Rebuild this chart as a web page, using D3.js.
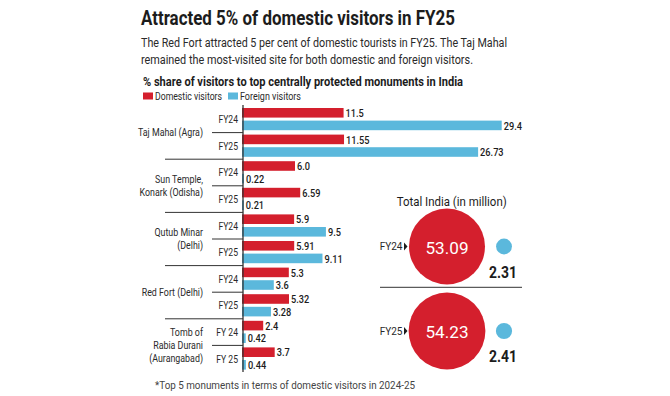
<!DOCTYPE html>
<html><head><meta charset="utf-8">
<script src="https://cdn.jsdelivr.net/npm/d3@7"></script>
<style>
html,body{margin:0;padding:0;background:#fff;}
svg{display:block;}
text{font-family:Roboto,"Noto Sans","DejaVu Sans",sans-serif;}
</style></head><body>
<svg id="chart" width="670" height="396"></svg>
<script>
// ---------- data ----------
const monuments = [["Taj Mahal (Agra)"],["Sun Temple,","Konark (Odisha)"],["Qutub Minar","(Delhi)"],["Red Fort (Delhi)"],["Tomb of","Rabia Durani","(Aurangabad)"]];
const yearLabels = [["FY24","FY25"],["FY24","FY25"],["FY24","FY25"],["FY24","FY25"],["FY 24","FY 25"]];
const domestic = [11.5, 11.55, 6.0, 6.59, 5.9, 5.91, 5.3, 5.32, 2.4, 3.7];
const foreign  = [29.4, 26.73, 0.22, 0.21, 9.5, 9.11, 3.6, 3.28, 0.42, 0.44];
const seriesNames = ["Domestic visitors","Foreign visitors"];
const totalYears = ["FY24","FY25"];
const totalDomestic = [53.09, 54.23];
const totalForeign = [2.31, 2.41];

const titleText = "Attracted 5% of domestic visitors in FY25";
const subtitleLines = ["The Red Fort attracted 5 per cent of domestic tourists in FY25. The Taj Mahal","remained the most-visited site for both domestic and foreign visitors."];
const chartTitle = "% share of visitors to top centrally protected monuments in India";
const totalTitle = "Total India (in million)";
const footnote = "*Top 5 monuments in terms of domestic visitors in 2024-25";

// ---------- style ----------
const RED = "#d41f2d", BLUE = "#5bb8dc", INK = "#1c1c1c", GREY = "#2a2a2a", LINE = "#333";
const svg = d3.select("#chart");

// fit a text to an exact width (condensed look)
function fitW(sel, size, target) {
  sel.style("font-size", size + "px");
  sel.attr("textLength", target).attr("lengthAdjust", "spacingAndGlyphs");
  return sel;
}
// condense a text by a factor
function squeeze(sel, size, f) {
  sel.style("font-size", size + "px");
  sel.each(function () {
    const w = this.getComputedTextLength();
    d3.select(this).attr("textLength", (w * f).toFixed(2)).attr("lengthAdjust", "spacingAndGlyphs");
  });
  return sel;
}

// ---------- header ----------
fitW(svg.append("text").attr("x", 141).attr("y", 25).attr("fill", INK)
  .attr("font-weight", "bold").text(titleText), 19.5, 314);
subtitleLines.forEach((t, i) => {
  fitW(svg.append("text").attr("x", 141).attr("y", 47 + i * 17).attr("fill", GREY).text(t),
      12.5, i === 0 ? 366 : 332);
});
fitW(svg.append("text").attr("x", 143).attr("y", 86).attr("fill", INK)
  .attr("font-weight", "bold").text(chartTitle), 12.5, 320);

// legend
const legX = [143, 228], legW = [67, 61];
seriesNames.forEach((n, i) => {
  svg.append("rect").attr("x", legX[i]).attr("y", 92.5).attr("width", 10).attr("height", 7)
    .attr("fill", i === 0 ? RED : BLUE);
  fitW(svg.append("text").attr("x", legX[i] + 12).attr("y", 100).attr("fill", GREY).text(n), 11, legW[i]);
});

// ---------- bar chart ----------
const rows = d3.range(domestic.length);
const x = d3.scaleLinear().domain([0, 30]).range([242, 507]);
const y = d3.scaleBand().domain(rows).range([106, 372]).padding(0);
const yIn = d3.scaleBand().domain(["d", "f"]).range([2, 24.2]).paddingInner(0.24);
const fmt = v => Number.isInteger(v) ? v.toFixed(1) : String(v);

const series = [{key: "d", values: domestic, color: RED}, {key: "f", values: foreign, color: BLUE}];
const gBars = svg.append("g");
series.forEach(s => {
  gBars.selectAll(null).data(rows).join("rect")
    .attr("x", x(0))
    .attr("y", i => y(i) + yIn(s.key))
    .attr("width", i => x(s.values[i]) - x(0))
    .attr("height", yIn.bandwidth())
    .attr("fill", s.color);
  const t = gBars.selectAll(null).data(rows).join("text")
    .attr("x", i => x(s.values[i]) + 2)
    .attr("y", i => y(i) + yIn(s.key) + yIn.bandwidth() / 2)
    .attr("dy", "0.36em")
    .attr("fill", INK)
    .attr("font-weight", 500)
    .text(i => fmt(s.values[i]));
  squeeze(t, 11.5, 0.8);
});

// axis line
svg.append("line").attr("x1", 243).attr("x2", 243).attr("y1", y.range()[0] - 1).attr("y2", y.range()[1])
  .attr("stroke", LINE).attr("stroke-width", 1.3);

// separators and labels
monuments.forEach((lines, g) => {
  const top = y(2 * g), mid = y(2 * g + 1), bottom = mid + y.step();
  if (g > 0) svg.append("line").attr("x1", 165).attr("x2", 243).attr("y1", top).attr("y2", top)
    .attr("stroke", LINE).attr("stroke-width", 1);
  svg.append("line").attr("x1", 212).attr("x2", 243).attr("y1", mid).attr("y2", mid)
    .attr("stroke", LINE).attr("stroke-width", 1);
  const cy = (top + bottom) / 2, lh = 13.2;
  lines.forEach((t, j) => {
    squeeze(svg.append("text").attr("x", 203).attr("y", cy - 0.5 + (j - (lines.length - 1) / 2) * lh)
      .attr("dy", "0.36em").attr("text-anchor", "end").attr("fill", GREY).text(t), 11.5, 0.77);
  });
  yearLabels[g].forEach((t, k) => {
    squeeze(svg.append("text").attr("x", 238).attr("y", y(2 * g + k) + y.step() / 2)
      .attr("dy", "0.36em").attr("text-anchor", "end").attr("fill", GREY).text(t), 11, 0.78);
  });
});

// ---------- totals panel ----------
fitW(svg.append("text").attr("x", 396.7).attr("y", 206).attr("fill", INK)
  .text(totalTitle), 13.5, 110);
const r = d3.scaleSqrt().domain([0, 53.09]).range([0, 38]);
const cyT = d3.scalePoint().domain(totalYears).range([246.5, 331]);
svg.append("line").attr("x1", 380).attr("x2", 522).attr("y1", 287.3).attr("y2", 287.3)
  .attr("stroke", LINE).attr("stroke-width", 1);
totalYears.forEach((yr, i) => {
  const cy = cyT(yr);
  svg.append("circle").attr("cx", 447).attr("cy", cy).attr("r", r(totalDomestic[i])).attr("fill", RED);
  fitW(svg.append("text").attr("x", 425.5).attr("y", cy + 1).attr("dy", "0.36em")
    .attr("fill", "#fff").text(totalDomestic[i].toFixed(2)), 17, 43);
  svg.append("circle").attr("cx", 504).attr("cy", cy).attr("r", r(totalForeign[i])).attr("fill", BLUE);
  fitW(svg.append("text").attr("x", 489).attr("y", cy + 31)
    .attr("fill", INK).attr("font-weight", "bold").text(totalForeign[i].toFixed(2)), 16.5, 28);
  svg.append("text").attr("x", 402.5).attr("y", cy).attr("dy", "0.36em").attr("text-anchor", "end")
    .attr("fill", GREY).style("font-size", "10px").text(yr);
  svg.append("path").attr("d", `M404,${cy - 4}L407.5,${cy}L404,${cy + 4}Z`).attr("fill", INK);
});

// footnote
fitW(svg.append("text").attr("x", 155).attr("y", 389).attr("fill", "#444").text(footnote), 11, 260);
</script>
</body></html>
